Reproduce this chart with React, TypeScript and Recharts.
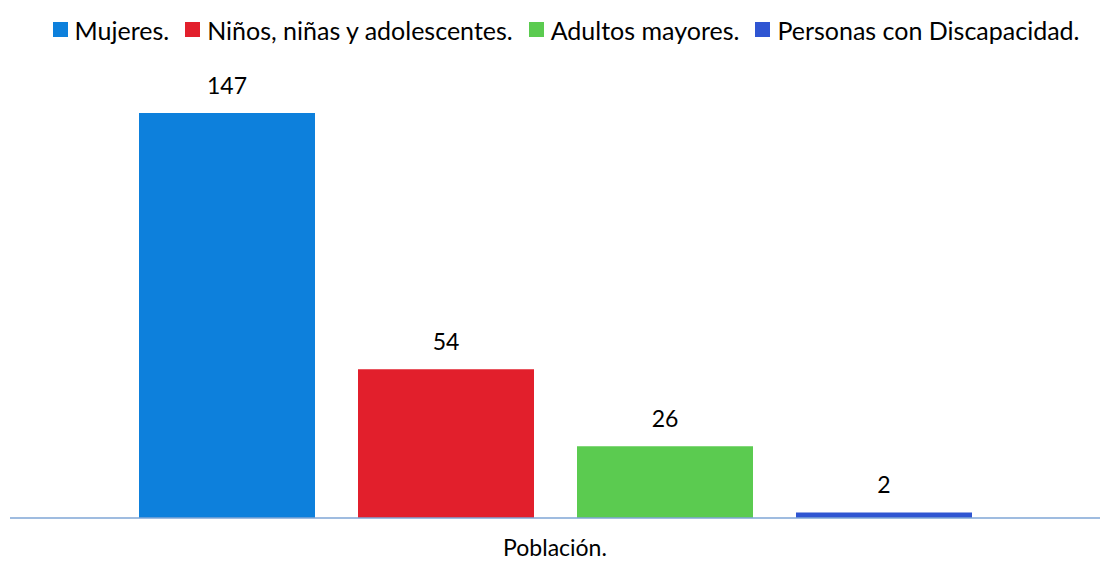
import { Bar, BarChart, LabelList, Legend, XAxis, YAxis } from "recharts";

const categories = ["Población."];
const seriesNames = [
  "Mujeres.",
  "Niños, niñas y adolescentes.",
  "Adultos mayores.",
  "Personas con Discapacidad.",
];
const seriesValues = [147, 54, 26, 2];
const seriesColors = ["#0d80dc", "#e21f2c", "#5bcb50", "#2f55d2"];

const data = categories.map((name) => {
  const row: Record<string, string | number> = { name };
  seriesNames.forEach((s, i) => {
    row[s] = seriesValues[i];
  });
  return row;
});

const font = "Lato, 'Open Sans', sans-serif";

function TopLegend() {
  return (
    <div
      style={{
        display: "flex",
        justifyContent: "center",
        alignItems: "center",
        gap: 16,
        fontFamily: font,
        fontSize: 25,
        color: "#000",
        paddingLeft: 32,
        height: 25,
      }}
    >
      {seriesNames.map((s, i) => (
        <span key={s} style={{ display: "flex", alignItems: "center", gap: 7 }}>
          <span
            style={{
              width: 15,
              height: 15,
              background: seriesColors[i],
              display: "inline-block",
            }}
          />
          {s}
        </span>
      ))}
    </div>
  );
}

export default function App() {
  return (
    <div style={{ position: "absolute", left: 0, top: 0, background: "#fff" }}>
      <BarChart
        width={1100}
        height={563}
        data={data}
        margin={{ top: 88, right: 0, bottom: 0, left: 10 }}
        barCategoryGap={129}
        barGap={43}
      >
        <XAxis
          dataKey="name"
          height={45}
          tickLine={false}
          axisLine={{ stroke: "#7fa6d6", strokeWidth: 1.5 }}
          tick={{ fill: "#000", fontSize: 23, fontFamily: font }}
          tickMargin={16}
        />
        <YAxis hide domain={[0, 147]} />
        <Legend
          verticalAlign="top"
          wrapperStyle={{ top: 17, left: 0, width: 1100 }}
          content={() => <TopLegend />}
        />
        {seriesNames.map((s, i) => (
          <Bar key={s} dataKey={s} fill={seriesColors[i]} isAnimationActive={false}>
            <LabelList
              dataKey={s}
              position="top"
              offset={19}
              style={{ fill: "#000", fontSize: 23, fontFamily: font }}
            />
          </Bar>
        ))}
      </BarChart>
    </div>
  );
}
